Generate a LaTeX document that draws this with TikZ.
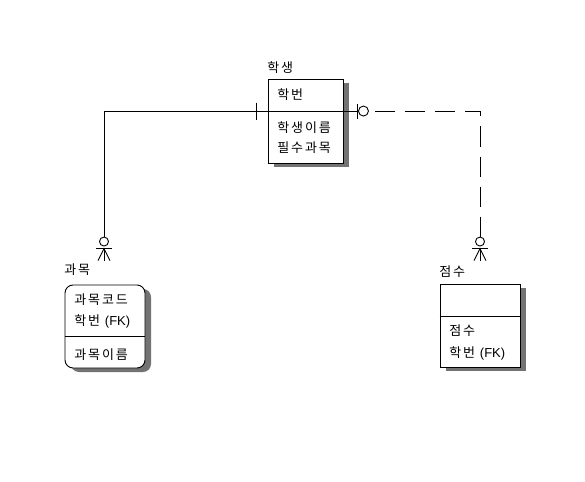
\documentclass[tikz,border=0pt]{standalone}
\usepackage{fontspec}
\newfontfamily\kr[LetterSpace=14]{Noto Sans CJK KR}
\newfontfamily\lat{Liberation Sans}
\usetikzlibrary{calc,shadows}

\begin{document}
\begin{tikzpicture}[x=1pt,y=-1pt,line width=0.9pt,
  entity/.style={draw, fill=white, inner sep=0pt,
    drop shadow={shadow xshift=6pt, shadow yshift=-4pt, fill=black!55, opacity=1}},
  txt/.style={font=\kr\fontsize{13}{15}\selectfont, inner sep=0pt, anchor=west},
  crowzero/.pic={
    \draw (0,-19) circle (4.5);
    \draw (-8,-12) -- (8,-12);
    \draw (-6,0) -- (0,-12) -- (6,0);
    \draw (0,-12) -- (0,0);
  }]
\useasboundingbox (0,0) rectangle (585,481);

% entities
\node[entity, minimum width=75pt, minimum height=84pt] (s) at (305.5,121) {};
\node[entity, rounded corners=8pt, minimum width=80pt, minimum height=83pt] (k) at (105,326.5) {};
\node[entity, minimum width=80pt, minimum height=83pt] (j) at (480,325.5) {};

% key / attribute dividers
\draw ($(s.north west)+(0,33)$) -- ($(s.north east)+(0,33)$);
\draw ($(k.north west)+(0,52)$) -- ($(k.north east)+(0,52)$);
\draw ($(j.north west)+(0,33)$) -- ($(j.north east)+(0,33)$);

% titles
\node[txt] (st) at (267,68) {학생};
\node[txt] (kt) at (64,270) {과목};
\node[txt] (jt) at (439,272) {점수};

% attributes
\node[txt] (s1) at (277,95) {학번};
\node[txt] (s2) at (277,128) {학생이름};
\node[txt] (s3) at (277,148) {필수과목};

\node[txt] (k1) at (74,300) {과목코드};
\node[txt] (k2) at (74,321) {학번 {\lat\fontsize{13}{15}\selectfont(FK)}};
\node[txt] (k3) at (74,355) {과목이름};

\node[txt] (j1) at (449,331) {점수};
\node[txt] (j2) at (449,353) {학번 {\lat\fontsize{13}{15}\selectfont(FK)}};

% relationship endpoints
\coordinate (sL) at ($(s.north west)+(0,32.5)$);
\coordinate (sR) at ($(s.north east)+(0,32.5)$);
\coordinate (kE) at ($(k.north)+(-1,-24)$);
\coordinate (jE) at ($(j.north)+(0,-23)$);

% 학생 -- 과목 (identifying, one to zero-or-many)
\draw (sL) -| ($(kE)+(0,-23.5)$);
\draw ($(sL)+(-11,-8.5)$) -- ($(sL)+(-11,8.5)$);
\pic at (kE) {crowzero};

% 학생 -- 점수 (non-identifying, zero-or-one to zero-or-many)
\draw (sR) -- ($(sR)+(15,0)$);
\draw ($(sR)+(14,-7.5)$) -- ($(sR)+(14,7.5)$);
\draw ($(sR)+(20,0)$) circle (5);
\draw[dash pattern=on 20pt off 10pt] ($(sR)+(32,0)$) -| ($(jE)+(0,-23.5)$);
\pic at (jE) {crowzero};
\end{tikzpicture}
\end{document}
